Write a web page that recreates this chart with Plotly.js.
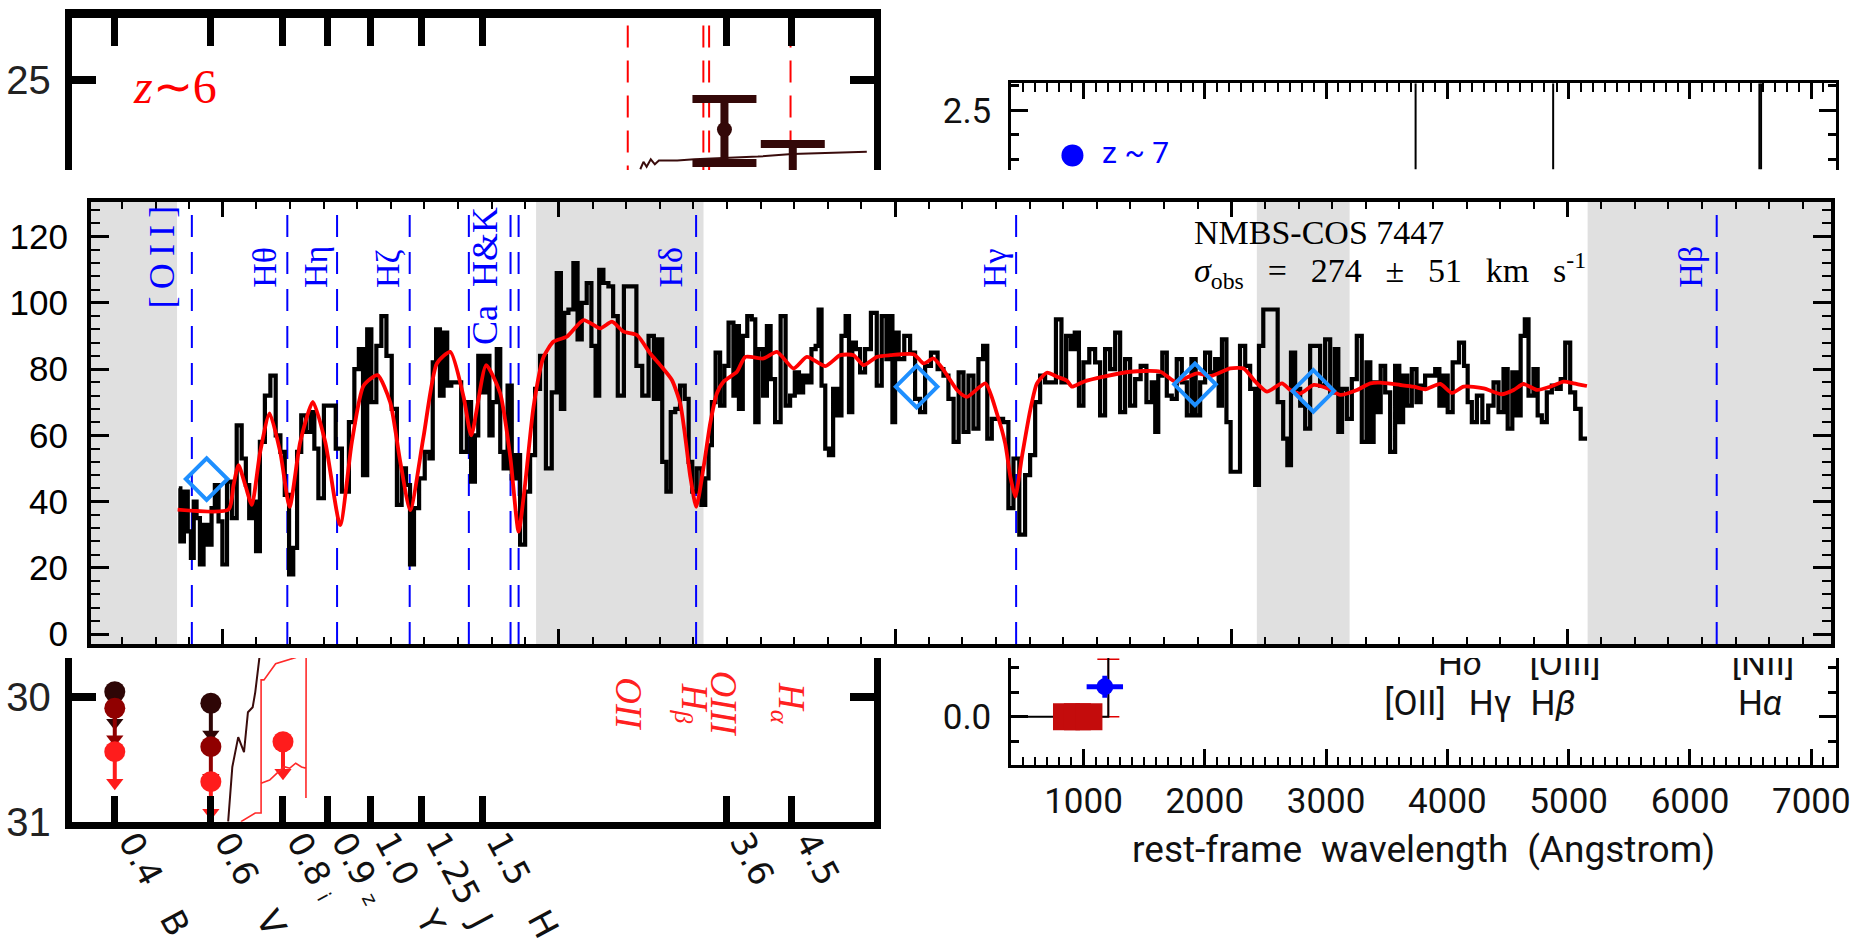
<!DOCTYPE html>
<html><head><meta charset="utf-8">
<script src="https://cdn.plot.ly/plotly-3.0.1.min.js"></script>
<style>html,body{margin:0;padding:0;background:#fff;overflow:hidden}</style>
</head><body><div id="chart" style="width:1859px;height:941px"></div>
<script>
// ---------------- MAIN PANEL DATA (rest-frame wavelength, flux) ----------------
const specLam = [3717.3,3719.6,3722.6,3725.3,3727.3,3729.5,3731.5,3734.5,3736.9,3740.7,3742.6,3745.6,3748.1,3751.3,3755.0,3758.5,3762.2,3765.9,3768.4,3770.9,3773.6,3775.9,3779.3,3783.3,3787.5,3791.2,3794.5,3797.7,3800.9,3803.9,3806.6,3810.1,3813.8,3817.0,3819.2,3823.0,3827.4,3832.4,3835.6,3841.6,3846.0,3849.7,3852.7,3855.9,3858.9,3862.1,3866.3,3869.6,3873.8,3877.5,3881.5,3884.5,3888.0,3890.5,3893.9,3898.1,3902.3,3905.0,3907.3,3910.0,3913.0,3915.4,3918.4,3921.5,3925.0,3929.6,3933.3,3936.0,3939.0,3941.0,3944.4,3947.2,3949.4,3951.9,3955.6,3957.1,3960.6,3963.0,3966.8,3969.2,3973.0,3976.7,3980.4,3984.1,3987.8,3992.8,3996.5,4000.2,4002.7,4005.2,4008.9,4012.6,4015.1,4018.8,4022.5,4025.8,4028.7,4031.2,4034.9,4038.7,4041.9,4045.6,4051.0,4055.5,4059.7,4064.2,4069.1,4072.1,4075.3,4078.3,4081.5,4084.8,4088.2,4091.9,4095.2,4097.7,4100.6,4104.3,4107.6,4110.0,4112.5,4115.0,4118.0,4121.7,4124.4,4127.9,4131.6,4132.9,4134.8,4138.6,4141.5,4145.3,4146.7,4150.2,4153.4,4155.9,4158.9,4162.6,4167.1,4170.0,4173.8,4177.0,4180.0,4183.2,4186.2,4189.4,4192.4,4193.8,4196.8,4199.3,4202.3,4205.5,4208.5,4211.7,4214.7,4216.7,4219.6,4222.1,4225.8,4229.5,4234.5,4238.2,4241.9,4245.2,4247.0,4249.0,4251.0,4254.3,4259.3,4263.0,4266.7,4270.4,4274.2,4279.1,4284.1,4287.8,4291.5,4295.5,4299.0,4302.7,4306.4,4310.1,4313.8,4317.1,4320.0,4323.8,4328.2,4332.4,4336.1,4339.9,4344.8,4348.5,4352.3,4356.0,4359.7,4363.4,4367.1,4372.1,4375.3,4379.0,4382.0,4385.2,4388.2,4391.9,4396.9,4400.6,4404.3,4408.0,4411.8,4415.5,4419.2,4422.9,4426.6,4430.4,4434.8,4439.0,4442.7,4444.2,4447.2,4450.2,4453.9,4457.6,4461.3,4465.1,4468.8,4472.0,4475.0,4478.7,4482.4,4486.1,4489.9,4491.3,4494.8,4498.0,4501.0,4504.5,4508.5,4512.2,4515.9,4519.6,4521.6,4526.0,4532.0,4537.0,4540.2,4543.2,4545.6,4549.4,4553.1,4556.8,4560.5,4564.2,4567.9,4571.7,4575.4,4578.6,4580.6,4584.1,4587.8,4591.5,4595.2,4598.9,4602.2,4604.6,4607.1,4609.6,4612.6,4616.3,4620.0,4623.7,4626.2,4629.4,4632.4,4636.1,4639.4,4642.3,4646.0,4649.8,4653.5,4656.0,4659.7,4662.2,4667.1,4671.6,4674.6,4677.0,4680.8,4684.5,4688.9,4693.2,4696.9,4700.6,4704.3,4706.8,4711.2,4713.0,4717.4,4719.2,4722.9,4726.6,4729.1,4732.8,4736.5,4740.3,4743.5,4746.5,4750.2,4753.9,4757.6,4762.1,4764.6];
const specFlux = [44,28,43,31,23,40,35,21,33,27,38,45,34,21,46,35,63,53,45,35,40,25,58,72,78,60,55,42,18,26,55,66,61,67,56,41,69,69,56,43,64,80,86,48,92,70,87,96,84,68,39,50,45,21,38,47,55,53,82,92,72,91,75,76,76,55,70,46,60,84,73,84,60,70,86,55,50,75,47,54,27,43,54,74,84,50,73,109,68,97,98,112,89,100,106,87,72,110,106,105,96,72,105,105,81,72,90,71,89,52,43,67,68,75,71,52,43,50,39,47,57,70,85,69,81,94,72,93,68,90,96,95,64,86,72,93,77,64,96,69,72,79,73,78,76,86,87,98,75,56,54,74,66,90,96,67,88,86,79,86,97,75,96,83,96,64,91,83,90,85,71,67,81,85,80,78,71,58,79,61,78,62,83,87,59,65,65,64,38,53,30,48,54,70,78,76,76,95,76,90,86,91,69,82,86,82,66,86,80,91,67,83,69,77,81,70,76,61,78,85,72,71,83,76,66,83,66,76,85,79,83,69,89,64,49,49,87,81,74,45,87,98,98,70,59,51,85,74,69,62,87,87,75,89,73,86,61,74,65,77,90,58,82,58,76,67,81,73,55,81,64,78,69,80,70,75,78,78,80,69,78,67,82,88,81,70,64,72,64,69,76,67,80,62,79,66,90,95,72,80,66,64,73,75,74,77,88,73,68,59,59];
const modelLam = [3716.4,3754.3,3758.0,3761.7,3766.7,3771.6,3777.8,3784.8,3792.7,3799.7,3807.6,3817.0,3826.2,3837.3,3846.0,3854.7,3865.1,3874.5,3882.0,3889.4,3899.3,3909.2,3919.2,3929.1,3934.8,3945.9,3956.3,3963.8,3970.0,3974.9,3981.1,3988.6,3996.0,4005.9,4018.3,4030.7,4039.4,4048.1,4058.0,4067.9,4075.3,4084.0,4090.2,4093.9,4097.7,4102.1,4107.6,4112.5,4117.5,4122.4,4132.4,4138.6,4152.2,4162.1,4174.5,4184.4,4198.1,4209.2,4219.1,4226.6,4236.5,4246.4,4263.8,4271.2,4278.6,4286.1,4296.0,4303.4,4317.1,4325.7,4331.9,4335.7,4339.4,4344.3,4350.5,4355.5,4362.9,4370.4,4377.8,4381.5,4390.2,4405.1,4424.9,4447.2,4458.4,4474.5,4484.4,4499.3,4509.2,4517.9,4526.6,4537.7,4543.9,4551.3,4561.3,4571.2,4581.1,4593.5,4603.4,4610.8,4625.7,4635.6,4644.3,4655.5,4664.1,4672.8,4687.7,4701.3,4710.0,4717.4,4727.4,4737.3,4747.2,4754.6,4764.5];
const modelFlux = [37.6,37.6,45,51,45,39,55,66.6,55,38.4,58,70.1,58,32.9,58,75,78.2,70,52,37.4,59.6,81.7,85.2,71.6,60,81.2,72.7,53.5,30.9,45.5,68.6,83.7,88.3,89.8,94.8,92.3,94.3,91.3,90.3,84.7,81.2,76.7,69.6,59.6,47.5,38.4,50.5,63.6,72.7,76.2,79.2,83.7,83.2,85.2,80.2,83.7,80.9,84.2,84.2,81.2,83.7,84.2,84.5,81.7,83.2,79.7,73.7,71.6,75.7,66.6,57.5,47.5,41.5,53.5,67.6,75.7,78.9,77.7,76.5,74.7,76.2,77.7,79.2,79.2,76.2,78.7,77.9,80.2,80.2,76.2,73.2,75.7,73.7,72.6,75.2,74.2,72.2,73.7,75.7,75.9,75.2,74.7,73.9,75.5,72.8,74.7,74.2,72.4,73.7,75.5,73.7,74.7,76.2,75.7,74.9];
const photLam = [3738, 4266, 4473, 4561];
const photFlux = [46.8, 74.7, 75.4, 73.4];
const lineLam = [3727, 3798, 3835, 3889, 3933, 3964, 3970, 4102, 4340, 4861];
const lineNames = ["[\u2009O\u2009I\u2009I\u2009]", "Hθ", "Hη", "Hζ", "Ca\u2002H&K", "Hδ", "Hγ", "Hβ"];
const lineNameLam = [3727, 3798, 3835, 3889, 3933, 4102, 4340, 4861];
const maskStart = [3652, 3983, 4519, 4765];
const maskEnd = [3716, 4107.5, 4588, 4946];

// ---------------- LEFT PANELS (observed wavelength in micron, AB mag) ----------------
const filtLam = [0.40, 0.564, 0.73, 0.857, 1.0, 1.2, 1.49, 3.56, 4.5];
const filtText = ["0.4\u2002\u2002B", "0.6\u2002\u2002V", "0.8 <span style='font-size:20px'>i</span>", "0.9 <span style='font-size:20px'>z</span>", "1.0\u2002\u2002Y", "1.25\u2002J", "1.5\u2002\u2002H", "3.6", "4.5"];
const z6LineLam = [2.505, 3.283, 3.351, 4.484];
const z6Names = ["OII", "H<sub>β</sub>", "OIII", "H<sub>α</sub>"];
const z6LabelLam = [2.51, 3.15, 3.53, 4.45];
const iracLam = [3.54, 4.52];
const iracMag = [25.40, 25.86];
const iracErrUp = [0.247, 0.344];
const iracErrDn = [0.27, 0.3];
const sedTopLam = [2.62, 2.65, 2.68, 2.72, 2.76, 2.80, 2.99, 3.18, 3.99, 4.51, 5.89];
const sedTopMag = [25.72, 25.66, 25.70, 25.64, 25.68, 25.65, 25.65, 25.64, 25.618, 25.597, 25.578];
const limLam = [0.40, 0.40, 0.40, 0.564, 0.564, 0.564, 0.73];
const limMag = [29.955, 30.088, 30.437, 30.048, 30.397, 30.678, 30.357];
const limColor = ["#2e0606", "#900000", "#ff1c1c", "#2e0606", "#900000", "#ff1c1c", "#ff1c1c"];
const sedDarkLam = [0.600, 0.609, 0.622, 0.635, 0.644, 0.655, 0.661, 0.671, 0.69, 0.75];
const sedDarkMag = [31.0, 30.56, 30.32, 30.44, 30.12, 30.08, 29.96, 29.68, 29.6, 29.55];
const sedRedALam = [0.628, 0.661, 0.675, 0.675, 0.682, 0.711, 0.764, 0.79];
const sedRedAMag = [31.0, 30.93, 30.93, 29.86, 29.86, 29.73, 29.68, 29.6];
const sedRedBLam = [0.675, 0.696, 0.718, 0.733, 0.748, 0.764, 0.780, 0.7925, 0.7925, 0.793];
const sedRedBMag = [30.69, 30.665, 30.60, 30.558, 30.57, 30.53, 30.56, 30.57, 30.81, 29.6];

// ---------------- RIGHT PANELS (rest-frame wavelength in Angstrom) ----------------
const z7LineLam = [3738, 4872, 6572, 6586];
const z7PointLam = [909];
const z7PointVal = [2.315];
const stepLam = [405, 1205, 1205];
const stepVal = [0.0, 0.0, 0.5];
const sqLam = [860, 950, 1045];
const sqVal = [0.0, 0.0, 0.0];
const bluePtLam = [1176];
const bluePtVal = [0.122];
const bluePtErrX = [150];
const bluePtErrY = [0.045];
const redCapLam = [1205];
const redCapVal = [0.0];
const redCapErr = [0.234];
const restLabels1 = ["[OII]", "Hγ", "H<i>β</i>", "H<i>α</i>"];
const restLabels1Lam = [3733, 4351, 4871, 6577];
const restLabels1Val = [0.041, 0.041, 0.041, 0.041];
const restLabels2 = ["H<i>δ</i>", "[OIII]", "[NII]"];
const restLabels2Lam = [4104, 4970, 6602];
const restLabels2Val = [0.204, 0.204, 0.204];

// ---------------- LAYOUT HELPERS ----------------
const W = 1859, H = 941;
const px = v => v / W;
const py = v => 1 - v / H;
const mainX = [3652, 4946], mainY = [-3, 130.6];
const logX = [-0.4647, 0.7816];
const y3R = [25.726, 24.5], y4R = [31.0, 29.684];
const restX = [405, 7202];
const y5R = [2.257, 2.611], y6R = [-0.197, 0.2396];

const traces = [];
// main panel
traces.push({x: specLam, y: specFlux, xaxis: 'x', yaxis: 'y', mode: 'lines',
  line: {color: '#000', width: 4.2, shape: 'hvh'}, hoverinfo: 'skip'});
traces.push({x: modelLam, y: modelFlux, xaxis: 'x', yaxis: 'y', mode: 'lines',
  line: {color: '#ff0000', width: 3.8, shape: 'spline', smoothing: 0.6}, hoverinfo: 'skip'});
traces.push({x: photLam, y: photFlux, xaxis: 'x', yaxis: 'y', mode: 'markers',
  marker: {symbol: 'diamond-open', size: 32, color: '#1e8fff', line: {color: '#1e8fff', width: 4}}});

// top-left z~6 panel
{
  const xs = [], ys = [];
  z6LineLam.forEach(v => { xs.push(v, v, null); ys.push(24.56, y3R[0], null); });
  traces.push({x: xs, y: ys, xaxis: 'x3', yaxis: 'y3', mode: 'lines',
    line: {color: '#ff0000', width: 2, dash: '22px,13px'}, hoverinfo: 'skip'});
}
traces.push({x: sedTopLam, y: sedTopMag, xaxis: 'x3', yaxis: 'y3', mode: 'lines',
  line: {color: '#3a0c0c', width: 2}, hoverinfo: 'skip'});
traces.push({x: iracLam, y: iracMag, xaxis: 'x3', yaxis: 'y3', mode: 'markers',
  marker: {color: '#340808', size: 15, opacity: 1},
  error_y: {type: 'data', array: iracErrDn, arrayminus: iracErrUp, color: '#340808', thickness: 8, width: 32}});

// bottom-left panel: upper limits (circle + downward arrow)
limLam.forEach((v, i) => {
  traces.push({x: [v, v], y: [limMag[i], limMag[i] + 0.25], xaxis: 'x4', yaxis: 'y4', mode: 'lines+markers',
    line: {color: limColor[i], width: 4},
    marker: {symbol: ['circle', 'triangle-down'], size: [21, 15], color: limColor[i], opacity: 1, line: {width: 0}},
    hoverinfo: 'skip'});
});
traces.push({x: sedDarkLam, y: sedDarkMag, xaxis: 'x4', yaxis: 'y4', mode: 'lines',
  line: {color: '#3a0c0c', width: 2}, hoverinfo: 'skip'});
traces.push({x: sedRedALam, y: sedRedAMag, xaxis: 'x4', yaxis: 'y4', mode: 'lines',
  line: {color: '#ff2a2a', width: 1.6}, hoverinfo: 'skip'});
traces.push({x: sedRedBLam, y: sedRedBMag, xaxis: 'x4', yaxis: 'y4', mode: 'lines',
  line: {color: '#ff2a2a', width: 1.6}, hoverinfo: 'skip'});

// top-right z~7 panel
{
  const xs = [], ys = [];
  z7LineLam.forEach(v => { xs.push(v, v, null); ys.push(y5R[0], y5R[1], null); });
  traces.push({x: xs, y: ys, xaxis: 'x5', yaxis: 'y5', mode: 'lines',
    line: {color: '#000', width: 2}, hoverinfo: 'skip'});
}
traces.push({x: z7PointLam, y: z7PointVal, xaxis: 'x5', yaxis: 'y5', mode: 'markers+text',
  marker: {color: '#0000ff', size: 22}, text: ['  z ~ 7'], textposition: 'middle right',
  textfont: {family: 'Roboto, sans-serif', size: 30, color: '#0000ff'}});

// bottom-right panel
traces.push({x: redCapLam, y: redCapVal, xaxis: 'x6', yaxis: 'y6', mode: 'markers',
  marker: {size: 1, color: 'rgba(0,0,0,0)'},
  error_y: {type: 'data', array: redCapErr, arrayminus: [0], color: '#e00000', thickness: 1.5, width: 11}});
traces.push({x: stepLam, y: stepVal, xaxis: 'x6', yaxis: 'y6', mode: 'lines',
  line: {color: '#000', width: 2}, hoverinfo: 'skip'});
traces.push({x: [1090], y: [0.0], xaxis: 'x6', yaxis: 'y6', mode: 'markers',
  marker: {color: '#0000ff', size: 14}});
traces.push({x: sqLam, y: sqVal, xaxis: 'x6', yaxis: 'y6', mode: 'markers',
  marker: {symbol: 'square', color: '#c40c0c', size: 27}});
traces.push({x: bluePtLam, y: bluePtVal, xaxis: 'x6', yaxis: 'y6', mode: 'markers',
  marker: {color: '#0000ff', size: 17},
  error_x: {type: 'data', array: bluePtErrX, color: '#0000ff', thickness: 5, width: 0},
  error_y: {type: 'data', array: bluePtErrY, color: '#0000ff', thickness: 5, width: 0}});
traces.push({x: restLabels1Lam, y: restLabels1Val, xaxis: 'x6', yaxis: 'y6', mode: 'text',
  text: restLabels1, textposition: 'middle center', cliponaxis: true,
  textfont: {family: 'Roboto, sans-serif', size: 35, color: '#111'}});
traces.push({x: restLabels2Lam, y: restLabels2Val, xaxis: 'x6', yaxis: 'y6', mode: 'text',
  text: restLabels2, textposition: 'middle center', cliponaxis: true,
  textfont: {family: 'Roboto, sans-serif', size: 35, color: '#111'}});

// ---------------- SHAPES ----------------
const shapes = [];
maskStart.forEach((s, i) => shapes.push({type: 'rect', xref: 'x', yref: 'y domain', x0: s, x1: maskEnd[i], y0: 0, y1: 1,
  fillcolor: '#e0e0e0', line: {width: 0}, layer: 'below'}));
lineLam.forEach(v => shapes.push({type: 'line', xref: 'x', yref: 'y domain', x0: v, x1: v, y0: 0, y1: 0.985,
  line: {color: '#0000ff', width: 2, dash: '22px,15px'}, layer: 'below'}));

// ---------------- ANNOTATIONS ----------------
const labelShift = [-30, -23, -21, -22, 16, -26, -21, -26];
const labelBottom = [97.8, 103.9, 103.9, 103.9, 86.6, 103.9, 103.9, 103.9];
const labelSize = [36, 34, 34, 34, 36, 34, 34, 34];
const annotations = [];
lineNames.forEach((t, i) => annotations.push({x: lineNameLam[i], y: labelBottom[i], xref: 'x', yref: 'y',
  text: t, showarrow: false, textangle: -90, xanchor: 'center', yanchor: 'bottom', xshift: labelShift[i],
  font: {family: 'Liberation Serif, serif', size: labelSize[i], color: '#0000ff'}}));
annotations.push({x: 4471, y: 121.1, xref: 'x', yref: 'y', xanchor: 'left', yanchor: 'middle', showarrow: false,
  text: 'NMBS-COS 7447', font: {family: 'Liberation Serif, serif', size: 34, color: '#000'}});
annotations.push({x: 4471, y: 109.9, xref: 'x', yref: 'y', xanchor: 'left', yanchor: 'middle', showarrow: false,
  text: '<i>σ</i><sub>obs</sub>\u2002\u2009=\u2002\u2009274\u2002\u2009±\u2002\u200951\u2002\u2009km\u2002\u2009s<sup>-1</sup>',
  font: {family: 'Liberation Serif, serif', size: 34, color: '#000'}});
annotations.push({x: px(175), y: py(86), xref: 'paper', yref: 'paper', showarrow: false, xanchor: 'center', yanchor: 'middle',
  text: '<i>z</i>∼6', font: {family: 'Liberation Serif, serif', size: 48, color: '#ff0000'}});
z6Names.forEach((t, i) => annotations.push({x: Math.log10(z6LabelLam[i]), y: 30.05, xref: 'x4', yref: 'y4',
  text: '<i>' + t + '</i>', showarrow: false, textangle: 90, xanchor: 'center', yanchor: 'middle',
  font: {family: 'Liberation Serif, serif', size: 37, color: '#ff2020'}}));

const tickFontBig = {family: 'Liberation Sans, Arial, sans-serif', size: 35, color: '#000'};
const narrow = {family: 'Roboto, sans-serif', size: 35, color: '#111'};

const layout = {
  width: W, height: H, margin: {l: 0, r: 0, t: 0, b: 0}, showlegend: false,
  paper_bgcolor: '#fff', plot_bgcolor: 'rgba(0,0,0,0)',
  xaxis: {domain: [px(91), px(1831)], range: mainX, anchor: 'y', showgrid: false, zeroline: false,
    showline: true, linewidth: 4, linecolor: '#000', mirror: 'allticks', ticks: 'inside', ticklen: 15, tickwidth: 3,
    tick0: 3750, dtick: 250, tickcolor: '#000', showticklabels: false,
    minor: {ticks: 'inside', dtick: 25, tick0: 3750, ticklen: 7, tickwidth: 2, tickcolor: '#000', showgrid: false}},
  yaxis: {domain: [py(644), py(201.5)], range: mainY, anchor: 'x', showgrid: false, zeroline: false,
    showline: true, linewidth: 4, linecolor: '#000', mirror: 'allticks', ticks: 'inside', ticklen: 18, tickwidth: 3,
    tick0: 0, dtick: 20, tickcolor: '#000', tickfont: tickFontBig, ticklabelstandoff: 12,
    minor: {ticks: 'inside', dtick: 4, ticklen: 9, tickwidth: 2, tickcolor: '#000', showgrid: false}},
  xaxis3: {domain: [px(71.8), px(874.2)], type: 'log', range: logX, anchor: 'y3', side: 'top', showgrid: false, zeroline: false,
    showline: true, linewidth: 9, linecolor: '#000', ticks: 'inside', ticklen: 28, tickwidth: 7, tickcolor: '#000',
    tickmode: 'array', tickvals: filtLam, showticklabels: false},
  yaxis3: {domain: [py(170), py(18)], range: y3R, anchor: 'x3', showgrid: false, zeroline: false,
    showline: true, linewidth: 7, linecolor: '#000', mirror: 'allticks', ticks: 'inside', ticklen: 24, tickwidth: 8, tickcolor: '#000',
    tickmode: 'array', tickvals: [25], ticktext: ['25'], tickfont: {family: 'Liberation Sans, sans-serif', size: 40, color: '#222'}, ticklabelstandoff: 6},
  xaxis4: {domain: [px(71.8), px(874.2)], type: 'log', range: logX, anchor: 'y4', side: 'bottom', showgrid: false, zeroline: false,
    showline: true, linewidth: 7, linecolor: '#000', ticks: 'inside', ticklen: 26, tickwidth: 7, tickcolor: '#000',
    tickmode: 'array', tickvals: filtLam, ticktext: filtText, tickangle: 62,
    tickfont: {family: 'DejaVu Sans, sans-serif', size: 34, color: '#111'}, ticklabelstandoff: -20, ticklabelshift: 18},
  yaxis4: {domain: [py(821.7), py(658)], range: y4R, anchor: 'x4', showgrid: false, zeroline: false,
    showline: true, linewidth: 7, linecolor: '#000', mirror: 'allticks', ticks: 'inside', ticklen: 24, tickwidth: 8, tickcolor: '#000',
    tickmode: 'array', tickvals: [30, 31], ticktext: ['30', '31'], tickfont: {family: 'Liberation Sans, sans-serif', size: 40, color: '#222'}, ticklabelstandoff: 6},
  xaxis5: {domain: [px(1011.3), px(1835.8)], range: restX, anchor: 'y5', side: 'top', showgrid: false, zeroline: false,
    showline: true, linewidth: 3, linecolor: '#000', ticks: 'inside', ticklen: 16, tickwidth: 3, tickcolor: '#000',
    tick0: 0, dtick: 1000, showticklabels: false,
    minor: {ticks: 'inside', dtick: 100, ticklen: 9, tickwidth: 2, tickcolor: '#000', showgrid: false}},
  yaxis5: {domain: [py(169.5), py(83.3)], range: y5R, anchor: 'x5', showgrid: false, zeroline: false,
    showline: true, linewidth: 3, linecolor: '#000', mirror: 'allticks', ticks: 'inside', ticklen: 17, tickwidth: 3, tickcolor: '#000',
    tickmode: 'array', tickvals: [2.5], ticktext: ['2.5'], tickfont: narrow, ticklabelstandoff: 10,
    minor: {ticks: 'inside', tickmode: 'array', tickvals: [2.3, 2.4, 2.6], ticklen: 8, tickwidth: 3, tickcolor: '#000'}},
  xaxis6: {domain: [px(1011.3), px(1835.8)], range: restX, anchor: 'y6', side: 'bottom', showgrid: false, zeroline: false,
    showline: true, linewidth: 3, linecolor: '#000', ticks: 'inside', ticklen: 16, tickwidth: 3, tickcolor: '#000',
    tick0: 0, dtick: 1000, tickfont: narrow, ticklabelstandoff: 3,
    title: {text: 'rest-frame\u2002wavelength\u2002(Angstrom)', font: {family: 'Roboto, sans-serif', size: 37, color: '#111'}, standoff: 16},
    minor: {ticks: 'inside', dtick: 100, ticklen: 8, tickwidth: 2, tickcolor: '#000', showgrid: false}},
  yaxis6: {domain: [py(765), py(658)], range: y6R, anchor: 'x6', showgrid: false, zeroline: false,
    showline: true, linewidth: 3, linecolor: '#000', mirror: 'allticks', ticks: 'inside', ticklen: 17, tickwidth: 3, tickcolor: '#000',
    tickmode: 'array', tickvals: [0], ticktext: ['0.0'], tickfont: narrow, ticklabelstandoff: 10,
    minor: {ticks: 'inside', tickmode: 'array', tickvals: [-0.1, 0.1, 0.2], ticklen: 8, tickwidth: 3, tickcolor: '#000'}},
  shapes: shapes,
  annotations: annotations
};

Plotly.newPlot('chart', traces, layout, {displayModeBar: false, staticPlot: true});
</script></body></html>
